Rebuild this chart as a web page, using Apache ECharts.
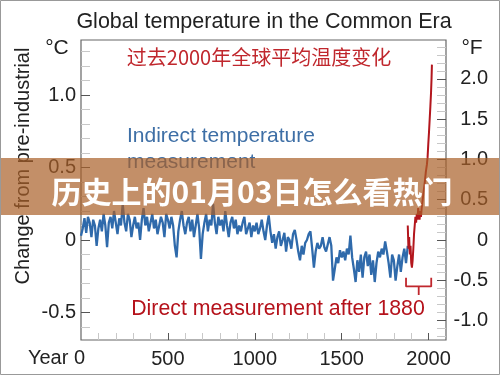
<!DOCTYPE html>
<html>
<head>
<meta charset="utf-8">
<script src="https://cdn.jsdelivr.net/npm/echarts@6/dist/echarts.min.js"></script>
<style>
  html, body { margin: 0; padding: 0; background: #fff; }
  #chart { width: 500px; height: 375px; }
</style>
</head>
<body>
<div id="chart"></div>
<script>
// proxy reconstruction, one value every 10 years from year 0 to 1880 (°C)
const blueStep = 10;
const blueTemp = [
  0.03, 0.08, 0.15, 0.05, 0.16, 0.12, 0.02, 0.14, 0.10, -0.04, 0.08,
  0.14, 0.06, 0.18, 0.10, -0.05, 0.12, 0.16, 0.08, 0.20, 0.12,
  0.04, 0.15, 0.10, 0.25, 0.12, 0.06, 0.18, 0.14, 0.02, 0.10,
  0.16, 0.08, 0.12, 0.00, 0.14, 0.22, 0.10, 0.16, 0.06, 0.12,
  0.18, 0.08, 0.14, 0.04, 0.10, 0.16, 0.12, 0.02, 0.18, 0.14,
  0.08, 0.16, 0.10, -0.04, -0.12, 0.06, 0.14, 0.20, 0.10, 0.04,
  0.12, 0.16, 0.06, 0.14, 0.02, 0.10, 0.18, 0.08, -0.13, 0.04,
  0.12, 0.18, 0.06, 0.14, 0.10, 0.25, 0.12, 0.04, 0.16, 0.10,
  0.14, 0.06, 0.20, 0.10, 0.02, 0.12, 0.16, 0.08, 0.14, 0.04,
  0.10, 0.06, 0.12, 0.16, 0.04, 0.08, 0.12, 0.02, 0.10, 0.06,
  0.12, 0.04, 0.08, 0.14, 0.06, 0.00, 0.10, 0.17, 0.06, -0.02,
  0.04, -0.06, 0.02, 0.06, -0.04, 0.00, 0.05, -0.08, 0.02, 0.00,
  -0.06, 0.04, 0.07, 0.00, -0.08, -0.14, -0.04, -0.10, -0.02, 0.00,
  0.04, 0.06, -0.06, -0.19, -0.08, -0.02, -0.06, -0.04, 0.02, -0.05,
  -0.08, -0.03, 0.02, -0.04, -0.28, -0.20, -0.12, -0.16, -0.07, -0.12,
  -0.08, -0.14, -0.06, -0.10, 0.03, -0.12, -0.20, -0.29, -0.14, -0.22,
  -0.10, -0.26, -0.12, -0.08, -0.18, -0.10, -0.24, -0.14, -0.29, -0.16,
  -0.08, -0.12, -0.06, -0.10, -0.01, -0.08, -0.16, -0.26, -0.10, -0.14,
  -0.28, -0.18, -0.10, -0.22, -0.12, -0.06, -0.16, -0.04
];

// instrumental record after 1880 [year, °C]
const redTemp = [
  [1880, 0.10], [1884, -0.06], [1888, 0.02], [1892, -0.10], [1896, -0.04],
  [1900, -0.16], [1904, -0.19], [1908, -0.14], [1912, -0.06], [1916, 0.04],
  [1920, 0.10], [1924, 0.16], [1928, 0.12], [1932, 0.18], [1936, 0.14],
  [1940, 0.22], [1944, 0.18], [1948, 0.14], [1952, 0.20], [1956, 0.16],
  [1960, 0.22], [1966, 0.28], [1972, 0.34], [1978, 0.40], [1984, 0.47],
  [1990, 0.52], [1994, 0.57], [1998, 0.66], [2002, 0.74], [2006, 0.83],
  [2010, 0.92], [2014, 1.02], [2017, 1.12], [2019, 1.21]
];

// bracket under the instrumental part
const bracketYears = [1870, 1943, 2015];
const bracketLevels = [-0.26, -0.32, -0.38];

const yearTicks = [500, 1000, 1500, 2000];
const cTicks = [-0.5, 0, 0.5, 1.0];
const fTicks = [-1.0, -0.5, 0, 0.5, 1.0, 1.5, 2.0];

const cMin = -0.69, cMax = 1.38;
const fMin = cMin * 1.8, fMax = cMax * 1.8;

function minorList(lo, hi, step, majors) {
  const out = [];
  for (let k = Math.ceil(lo / step - 1e-9); k * step <= hi + 1e-9; k++) {
    const v = +(k * step).toFixed(4);
    if (!majors.some(m => Math.abs(m - v) < 1e-6)) out.push(v);
  }
  return out;
}
const fmt = v => (Math.abs(v) < 1e-9 ? '0' : v.toFixed(1));

const FONT = 'Liberation Sans, Arial, sans-serif';
const CJK = '"Noto Sans CJK SC", sans-serif';
const AXIS = '#666';
const MINOR = '#c8c8c8';

const chart = echarts.init(document.getElementById('chart'));

const bracketData = [
  [bracketYears[0], bracketLevels[0]], [bracketYears[0], bracketLevels[1]],
  [bracketYears[2], bracketLevels[1]], [bracketYears[2], bracketLevels[0]], null,
  [bracketYears[1], bracketLevels[1]], [bracketYears[1], bracketLevels[2]]
];

const yCommon = (min, max, pos) => ({
  type: 'value', min, max, position: pos, splitLine: { show: false },
  axisLine: { show: false, onZero: false }
});

chart.setOption({
  animation: false,
  grid: { left: 81, right: 54, top: 40, bottom: 35, show: true, borderColor: AXIS, borderWidth: 1.2 },
  xAxis: [
    {
      type: 'value', min: 0, max: 2100, position: 'bottom', splitLine: { show: false },
      axisLine: { show: false, onZero: false },
      axisTick: { inside: true, length: 7, customValues: yearTicks, lineStyle: { color: '#555' } },
      axisLabel: { customValues: yearTicks, formatter: v => String(v), margin: 9, fontSize: 20, color: '#222', fontFamily: FONT }
    },
    {
      type: 'value', min: 0, max: 2100, position: 'bottom', splitLine: { show: false },
      axisLine: { show: false, onZero: false }, axisLabel: { show: false },
      axisTick: { inside: true, length: 7, customValues: minorList(0, 2100, 100, yearTicks.concat([0, 2100])), lineStyle: { color: MINOR } }
    }
  ],
  yAxis: [
    Object.assign(yCommon(cMin, cMax, 'left'), {
      axisTick: { inside: true, length: 9, customValues: cTicks, lineStyle: { color: '#555' } },
      axisLabel: { customValues: cTicks, formatter: fmt, margin: 5, fontSize: 20, color: '#222', fontFamily: FONT }
    }),
    Object.assign(yCommon(cMin, cMax, 'left'), {
      axisLabel: { show: false },
      axisTick: { inside: true, length: 9, customValues: minorList(cMin, cMax, 0.1, cTicks), lineStyle: { color: MINOR } }
    }),
    Object.assign(yCommon(fMin, fMax, 'right'), {
      axisTick: { inside: true, length: 9, customValues: fTicks, lineStyle: { color: '#555' } },
      axisLabel: { customValues: fTicks, formatter: fmt, margin: 42, align: 'right', fontSize: 20, color: '#222', fontFamily: FONT }
    }),
    Object.assign(yCommon(fMin, fMax, 'right'), {
      axisLabel: { show: false },
      axisTick: { inside: true, length: 9, customValues: minorList(fMin, fMax, 0.1, fTicks), lineStyle: { color: MINOR } }
    })
  ],
  series: [
    {
      type: 'line', showSymbol: false, xAxisIndex: 0, yAxisIndex: 0,
      data: blueTemp.map((v, i) => [i * blueStep, v]),
      lineStyle: { color: '#2f6aab', width: 2.3 }, z: 3
    },
    {
      type: 'line', showSymbol: false, xAxisIndex: 0, yAxisIndex: 0,
      data: redTemp,
      lineStyle: { color: '#b3161d', width: 2 }, z: 4
    },
    {
      type: 'line', showSymbol: false, xAxisIndex: 0, yAxisIndex: 0, connectNulls: false,
      data: bracketData,
      lineStyle: { color: '#c0272d', width: 1.8 }, z: 4
    }
  ],
  graphic: [
    { type: 'rect', shape: { x: 0.5, y: 0.5, width: 499, height: 374 }, style: { fill: 'none', stroke: '#999', lineWidth: 1 }, z: 100 },
    { type: 'text', x: 264, y: 22, style: { text: 'Global temperature in the Common Era', font: '21.5px ' + FONT, fill: '#222', textAlign: 'center', textVerticalAlign: 'middle' } },
    { type: 'text', x: 57, y: 48, style: { text: '°C', font: '21px ' + FONT, fill: '#222', textAlign: 'center', textVerticalAlign: 'middle' } },
    { type: 'text', x: 472, y: 48, style: { text: '°F', font: '21px ' + FONT, fill: '#222', textAlign: 'center', textVerticalAlign: 'middle' } },
    { type: 'text', x: 23, y: 166, rotation: Math.PI / 2, style: { text: 'Change from pre-industrial', font: '20px ' + FONT, fill: '#222', textAlign: 'center', textVerticalAlign: 'middle' } },
    { type: 'text', x: 85, y: 358, style: { text: 'Year 0', font: '20px ' + FONT, fill: '#222', textAlign: 'right', textVerticalAlign: 'middle' } },
    { type: 'text', x: 259, y: 57, style: { text: '过去2000年全球平均温度变化', font: '20px ' + CJK, fill: '#c0272d', textAlign: 'center', textVerticalAlign: 'middle' } },
    { type: 'text', x: 127, y: 136, style: { text: 'Indirect temperature', font: '21px ' + FONT, fill: '#3e6fa6', textAlign: 'left', textVerticalAlign: 'middle' } },
    { type: 'text', x: 127, y: 162, style: { text: 'measurement', font: '21px ' + FONT, fill: '#3e6fa6', textAlign: 'left', textVerticalAlign: 'middle' } },
    { type: 'text', x: 278, y: 309, style: { text: 'Direct measurement after 1880', font: '21.3px ' + FONT, fill: '#b5121b', textAlign: 'center', textVerticalAlign: 'middle' } },
    { type: 'rect', shape: { x: 0, y: 158, width: 500, height: 57 }, style: { fill: 'rgba(170,95,40,0.7)' }, z: 50 },
    { type: 'text', x: 252, y: 192, z: 51, style: { text: '历史上的01月03日怎么看热门', font: 'bold 30px ' + CJK, fill: '#fff', textAlign: 'center', textVerticalAlign: 'middle' } }
  ]
});
</script>
</body>
</html>
